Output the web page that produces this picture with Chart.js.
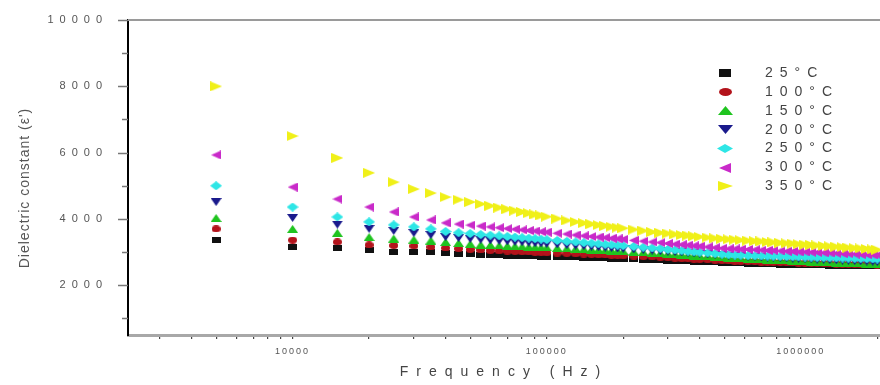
<!DOCTYPE html>
<html><head><meta charset="utf-8">
<script src="https://cdn.jsdelivr.net/npm/chart.js@4.4.1/dist/chart.umd.min.js"></script>
<style>html,body{margin:0;padding:0;background:#fff;}canvas{display:block;}</style>
</head><body>
<canvas id="c" width="880" height="385"></canvas>
<script>
// ---------- data ----------
const FREQ = [5000,10000,15000,20000,25000,30000,35000,40000,45000,50000,55000,60000,65000,70000,75000,80000,85000,90000,95000,100000,
  110000,120000,130000,140000,150000,160000,170000,180000,190000,200000,
  220000,240000,260000,280000,300000,320000,340000,360000,380000,400000,
  430000,460000,490000,520000,550000,580000,620000,660000,700000,740000,780000,830000,880000,930000,980000,
  1040000,1100000,1160000,1230000,1300000,1380000,1460000,1540000,1630000,1720000,1820000,1920000,2000000];

const T25 = [3370,3155,3125,3050,3005,3000,2990,2975,2950,2930,2915,2905,2898,2890,2885,2880,2875,2870,2866,2862,
  2858,2852,2838,2830,2822,2815,2810,2802,2795,2790,
  2780,2772,2762,2755,2745,2735,2728,2720,2712,2705,
  2695,2688,2678,2670,2665,2660,2654,2648,2642,2636,2630,2625,2620,2616,2612,
  2608,2604,2600,2597,2594,2591,2588,2585,2582,2580,2578,2576,2575];
const T100 = [3700,3365,3305,3215,3200,3185,3155,3125,3105,3080,3065,3050,3040,3030,3020,3010,3005,2995,2990,2980,
  2970,2960,2950,2940,2930,2920,2915,2905,2900,2890,
  2880,2865,2855,2845,2830,2820,2805,2800,2790,2780,
  2770,2755,2745,2735,2725,2720,2715,2710,2700,2695,2690,2685,2680,2675,2670,
  2665,2660,2655,2650,2645,2640,2635,2630,2625,2620,2615,2612,2610];
const T150 = [4030,3700,3580,3455,3410,3380,3350,3305,3275,3250,3225,3215,3200,3190,3180,3170,3160,3155,3145,3140,
  3125,3110,3100,3085,3075,3065,3055,3045,3035,3025,
  3010,2995,2980,2965,2950,2935,2920,2910,2895,2890,
  2875,2860,2845,2835,2820,2810,2800,2790,2785,2775,2765,2755,2750,2740,2735,
  2725,2715,2710,2700,2695,2685,2680,2670,2665,2660,2650,2645,2640];
const T200 = [4510,4030,3830,3700,3640,3575,3515,3455,3425,3400,3375,3355,3340,3325,3310,3300,3285,3270,3260,3250,
  3230,3210,3195,3180,3165,3150,3135,3125,3110,3100,
  3080,3065,3045,3030,3015,3000,2990,2975,2965,2950,
  2935,2920,2905,2895,2880,2870,2860,2850,2845,2835,2830,2820,2815,2805,2800,
  2790,2785,2775,2770,2760,2755,2745,2740,2730,2725,2715,2710,2700];
const T250 = [5000,4360,4060,3910,3820,3760,3700,3620,3585,3560,3530,3510,3490,3470,3450,3435,3420,3405,3390,3375,
  3350,3325,3305,3285,3270,3250,3235,3220,3205,3195,
  3170,3145,3125,3105,3080,3065,3045,3025,3010,2995,
  2975,2955,2935,2920,2910,2905,2895,2890,2885,2880,2875,2870,2865,2860,2855,
  2850,2845,2840,2835,2830,2825,2820,2815,2810,2805,2800,2795,2790];
const T300 = [5930,4960,4600,4360,4210,4060,3970,3880,3845,3815,3785,3760,3735,3710,3690,3670,3650,3635,3615,3600,
  3570,3545,3515,3490,3470,3450,3435,3415,3400,3385,
  3355,3330,3305,3285,3260,3240,3225,3210,3190,3175,
  3155,3135,3115,3100,3095,3085,3080,3070,3060,3050,3045,3035,3025,3020,3010,
  3005,2995,2990,2980,2975,2965,2955,2950,2940,2930,2925,2915,2910];
const T350 = [8000,6500,5840,5390,5110,4900,4780,4660,4580,4510,4450,4395,4340,4295,4250,4210,4175,4135,4105,4070,
  4010,3955,3910,3875,3845,3815,3790,3765,3740,3720,
  3680,3645,3605,3580,3560,3535,3515,3500,3480,3460,
  3440,3415,3400,3385,3375,3360,3345,3330,3320,3305,3295,3280,3265,3255,3240,
  3225,3215,3200,3185,3175,3160,3150,3135,3120,3110,3095,3080,3070];

const SERIES_LABELS = ['25°C','100°C','150°C','200°C','250°C','300°C','350°C'];
const SERIES = [T25, T100, T150, T200, T250, T300, T350];
const X_TICKS = [3000,4000,5000,6000,7000,8000,9000,10000,20000,30000,40000,50000,60000,70000,80000,90000,
  100000,200000,300000,400000,500000,600000,700000,800000,900000,1000000,2000000];
const X_LABELED = [10000,100000,1000000];
const Y_MAJOR = [2000,4000,6000,8000,10000];
const Y_MINOR = [1000,3000,5000,7000,9000];
const X_TITLE = 'Frequency (Hz)';
const Y_TITLE = "Dielectric constant (ε')";

// ---------- styles ----------
const COLORS = ['#111111','#b3131b','#1fc41f','#1a1a8c','#2ee6e6','#c92ac9','#f0f018'];
const SHAPES = ['rect','ellipse','up','down','diamond','left','right'];
const DATA_SIZE = [[9,6],[9,7],[11,8],[11,8],[12,9],[10,9],[12,10]];
const LEG_SIZE = [[12,8],[13,8],[15,9],[15,9],[16,9],[12,10],[15,10]];

function makeMarker(shape, color, w, h) {
  const cv = document.createElement('canvas');
  cv.width = w; cv.height = h;
  const c = cv.getContext('2d');
  c.fillStyle = color;
  c.beginPath();
  if (shape === 'rect') { c.rect(0, 0, w, h); }
  else if (shape === 'ellipse') { c.ellipse(w/2, h/2, w/2, h/2, 0, 0, Math.PI*2); }
  else if (shape === 'up') { c.moveTo(0,h); c.lineTo(w/2,0); c.lineTo(w,h); }
  else if (shape === 'down') { c.moveTo(0,0); c.lineTo(w,0); c.lineTo(w/2,h); }
  else if (shape === 'diamond') { c.moveTo(w/2,0); c.lineTo(w,h/2); c.lineTo(w/2,h); c.lineTo(0,h/2); }
  else if (shape === 'left') { c.moveTo(w,0); c.lineTo(w,h); c.lineTo(0,h/2); }
  else if (shape === 'right') { c.moveTo(0,0); c.lineTo(0,h); c.lineTo(w,h/2); }
  c.closePath();
  c.fill();
  return cv;
}
const DATA_MARKERS = SHAPES.map((s,i) => makeMarker(s, COLORS[i], DATA_SIZE[i][0], DATA_SIZE[i][1]));
const LEG_MARKERS = SHAPES.map((s,i) => makeMarker(s, COLORS[i], LEG_SIZE[i][0], LEG_SIZE[i][1]));

const FONT = '"Liberation Sans", Arial, sans-serif';
Chart.defaults.font.family = FONT;

// letter spacing per scale (labels / title)
const spacingPlugin = {
  id: 'spacing',
  beforeDraw(chart) {
    const wrap = (scale, lsLabels, lsTitle) => {
      if (!scale || scale.__wrapped) return;
      const dl = scale.drawLabels, dt = scale.drawTitle;
      scale.drawLabels = function(a) { const c = this.ctx; c.save(); c.letterSpacing = lsLabels; dl.call(this, a); c.restore(); };
      scale.drawTitle = function(a) { const c = this.ctx; c.save(); c.letterSpacing = lsTitle; dt.call(this, a); c.restore(); };
      scale.__wrapped = true;
    };
    wrap(chart.scales.x, '2px', '8px');
    wrap(chart.scales.y, '6px', '0px');
  }
};

const framePlugin = {
  id: 'frame',
  afterDraw(chart) {
    const {ctx, chartArea: ca, scales: {y}} = chart;
    ctx.save();
    // top frame line
    ctx.strokeStyle = '#9a9a9a'; ctx.lineWidth = 2;
    ctx.beginPath(); ctx.moveTo(ca.left, ca.top); ctx.lineTo(ca.right, ca.top); ctx.stroke();
    // y ticks (outside)
    ctx.strokeStyle = '#777'; ctx.lineWidth = 1.5;
    const tick = (v, len) => {
      const py = Math.round(y.getPixelForValue(v)) + 0.5;
      ctx.beginPath(); ctx.moveTo(ca.left - len, py); ctx.lineTo(ca.left, py); ctx.stroke();
    };
    Y_MAJOR.forEach(v => tick(v, 10));
    Y_MINOR.forEach(v => tick(v, 6));
    // y title
    ctx.save();
    ctx.translate(25, 188);
    ctx.rotate(-Math.PI / 2);
    ctx.font = '14px ' + FONT;
    ctx.letterSpacing = '1px';
    ctx.fillStyle = '#555';
    ctx.textAlign = 'center';
    ctx.textBaseline = 'middle';
    ctx.fillText(Y_TITLE, 0, 0);
    ctx.restore();
    // legend
    ctx.textBaseline = 'middle';
    ctx.textAlign = 'left';
    ctx.font = '14px ' + FONT;
    ctx.letterSpacing = '7px';
    ctx.fillStyle = '#444';
    SERIES_LABELS.forEach((lab, i) => {
      const ry = 73 + i * 18.9;
      const m = LEG_MARKERS[i];
      ctx.drawImage(m, Math.round(725 - m.width/2), Math.round(ry - m.height/2));
      ctx.fillText(lab, 765, ry);
    });
    ctx.restore();
  }
};

new Chart(document.getElementById('c'), {
  type: 'scatter',
  data: {
    datasets: SERIES.map((s, i) => ({
      label: SERIES_LABELS[i],
      data: FREQ.map((f, j) => ({x: f, y: s[j]})),
      pointStyle: DATA_MARKERS[i],
      pointRadius: 6,
      pointHoverRadius: 6,
      backgroundColor: COLORS[i],
      borderColor: COLORS[i],
      showLine: false,
      order: SERIES.length - i
    }))
  },
  options: {
    responsive: false,
    animation: false,
    devicePixelRatio: 1,
    events: [],
    layout: {autoPadding: false, padding: {left: 0, top: 20, right: 0, bottom: 0}},
    plugins: {legend: {display: false}, tooltip: {enabled: false}},
    scales: {
      x: {
        type: 'logarithmic', position: 'bottom', min: 2250, max: 2050000,
        afterBuildTicks: s => { s.ticks = X_TICKS.map(v => ({value: v})); },
        afterFit: s => { s.height = 50; s.paddingLeft = 0; s.paddingRight = 0; },
        grid: {display: true, drawOnChartArea: false, drawTicks: true, tickLength: 4, color: '#444', lineWidth: 1.2},
        border: {display: true, color: '#a8a8a8', width: 3},
        ticks: {autoSkip: false, maxRotation: 0, padding: 7, color: '#555', font: {size: 9},
                callback: v => X_LABELED.includes(v) ? String(v) : ''},
        title: {display: true, text: X_TITLE, color: '#444', font: {size: 14}, padding: {top: 0, bottom: 4}}
      },
      y: {
        type: 'linear', min: 500, max: 10000,
        afterBuildTicks: s => { s.ticks = Y_MAJOR.map(v => ({value: v})); },
        afterFit: s => { s.width = 128; s.paddingTop = 0; s.paddingBottom = 0; },
        grid: {display: false, drawTicks: false},
        border: {display: true, color: '#000', width: 2},
        ticks: {padding: 20, color: '#555', font: {size: 11}, callback: v => String(v)},
        title: {display: false}
      }
    }
  },
  plugins: [spacingPlugin, framePlugin]
});
</script>
</body></html>
